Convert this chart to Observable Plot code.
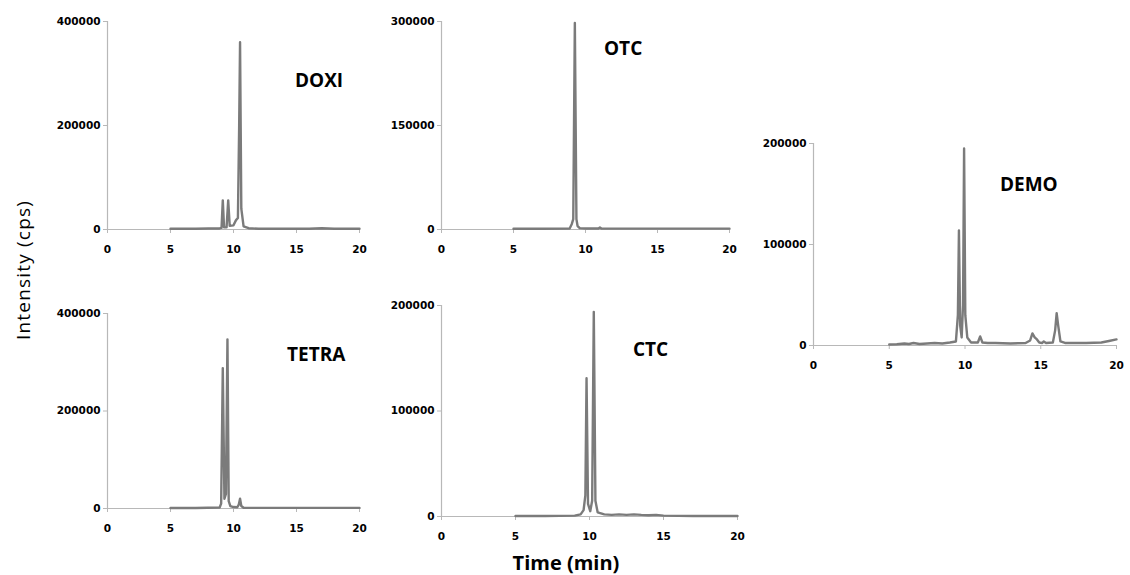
<!DOCTYPE html>
<html>
<head>
<meta charset="utf-8">
<script src="https://cdn.jsdelivr.net/npm/d3@7"></script>
<script src="https://cdn.jsdelivr.net/npm/@observablehq/plot@0.6"></script>
<style>
  html, body { margin: 0; padding: 0; background: #fff; overflow: hidden; }
  #root { position: relative; width: 1130px; height: 575px; overflow: hidden; background: #fff; }
  .panel { position: absolute; }
  .panel svg { max-width: none !important; display: block; }
  .title { position: absolute; font-family: "Open Sans", sans-serif; font-weight: bold; font-size: 19px; line-height: 19px; color: #000; white-space: nowrap; }
  .ylab { position: absolute; font-family: "Open Sans", sans-serif; font-size: 19px; letter-spacing: 1.2px; color: #000; white-space: nowrap; transform: translate(-50%, -50%) rotate(-90deg); }
  .xlab { position: absolute; font-family: "Open Sans", sans-serif; font-weight: bold; font-size: 20px; color: #000; white-space: nowrap; transform: translate(-50%, -50%); }
</style>
</head>
<body>
<div id="root"></div>
<script>
// ---- Data ----
const compounds = ["DOXI", "OTC", "DEMO", "TETRA", "CTC"];
const xTicks = [0, 5, 10, 15, 20];

const doxiYTicks = [0, 200000, 400000];
const otcYTicks = [0, 150000, 300000];
const demoYTicks = [0, 100000, 200000];
const tetraYTicks = [0, 200000, 400000];
const ctcYTicks = [0, 100000, 200000];

const doxiTime = [5, 6, 7, 8, 8.9, 9.05, 9.15, 9.25, 9.45, 9.58, 9.7, 10.0, 10.2, 10.35, 10.45, 10.52, 10.62, 10.8, 11.2, 12, 14, 16, 17, 18, 20];
const doxiInt  = [1500, 1500, 1500, 1800, 2000, 3000, 56000, 4000, 4000, 56000, 7000, 8000, 18000, 22000, 200000, 360000, 40000, 6000, 2500, 1500, 1500, 1500, 2500, 1500, 1500];

const otcTime = [5, 7, 8.9, 9.05, 9.15, 9.26, 9.37, 9.45, 9.6, 10, 10.9, 11, 11.1, 13, 16, 20];
const otcInt  = [1000, 1000, 1500, 8000, 15000, 298000, 15000, 5000, 2000, 1500, 1500, 3000, 1500, 1200, 1200, 1200];

const demoTime = [5, 5.5, 6, 6.3, 6.6, 7, 7.5, 8, 8.5, 9, 9.4, 9.53, 9.6, 9.68, 9.78, 9.87, 9.94, 10.02, 10.15, 10.4, 10.85, 11.0, 11.15, 11.5, 12, 13, 14, 14.3, 14.45, 14.6, 14.75, 14.9, 15.1, 15.2, 15.35, 15.8, 15.95, 16.05, 16.15, 16.3, 16.6, 17, 18, 19, 19.5, 20];
const demoInt  = [1000, 1200, 2000, 1500, 2500, 1500, 2000, 2500, 2000, 3000, 4000, 30000, 114000, 20000, 8000, 40000, 195000, 30000, 8000, 3000, 3000, 9000, 3000, 2500, 2500, 2000, 2500, 5000, 12000, 8000, 6000, 3000, 2500, 4000, 2500, 3000, 15000, 32000, 20000, 4000, 2500, 2500, 2500, 3000, 4500, 6000];

const tetraTime = [5, 7, 8.9, 9.02, 9.15, 9.28, 9.4, 9.52, 9.62, 9.75, 10, 10.3, 10.42, 10.52, 10.62, 10.8, 12, 15, 20];
const tetraInt  = [1000, 1000, 2000, 10000, 288000, 20000, 30000, 347000, 15000, 5000, 3000, 2500, 8000, 20000, 5000, 1500, 1200, 1200, 1200];

const ctcTime = [5, 7, 9, 9.4, 9.6, 9.72, 9.8, 9.9, 10.05, 10.18, 10.29, 10.4, 10.55, 11, 11.5, 12, 12.5, 13, 13.5, 14, 14.5, 15, 17, 20];
const ctcInt  = [500, 500, 800, 2000, 6000, 20000, 131000, 12000, 5000, 15000, 194000, 15000, 4000, 2000, 1500, 2000, 1500, 2000, 1500, 1200, 1500, 800, 500, 500];

// ---- Layout ----
const root = document.getElementById("root");
const ML = 70, MR = 20, MT = 10, MB = 30;

const panels = [
  {name: compounds[0], time: doxiTime, inten: doxiInt, yTicks: doxiYTicks, ax: 107, rx: 359, ty: 21, by: 229, tl: 295, tt: 71},
  {name: compounds[1], time: otcTime, inten: otcInt, yTicks: otcYTicks, ax: 441, rx: 729, ty: 21, by: 229, tl: 604, tt: 39},
  {name: compounds[2], time: demoTime, inten: demoInt, yTicks: demoYTicks, ax: 813, rx: 1116, ty: 143, by: 345, tl: 1000, tt: 175},
  {name: compounds[3], time: tetraTime, inten: tetraInt, yTicks: tetraYTicks, ax: 107, rx: 359, ty: 313, by: 508, tl: 287, tt: 345},
  {name: compounds[4], time: ctcTime, inten: ctcInt, yTicks: ctcYTicks, ax: 441, rx: 737, ty: 305, by: 516, tl: 633, tt: 340}
];

for (const p of panels) {
  const data = p.time.map((t, i) => ({t, v: p.inten[i]}));
  const yMax = p.yTicks[p.yTicks.length - 1];
  const W = ML + (p.rx - p.ax) + MR;
  const H = MT + (p.by - p.ty) + MB;
  const chart = Plot.plot({
    width: W,
    height: H,
    marginLeft: ML, marginRight: MR, marginTop: MT, marginBottom: MB,
    style: {fontFamily: "DejaVu Sans", fontSize: "10.5px", fontWeight: "bold", color: "#000", background: "transparent", overflow: "visible", maxWidth: "none"},
    x: {domain: [0, 20]},
    y: {domain: [0, yMax]},
    marks: [
      Plot.ruleX([0], {stroke: "#b8b8b8", strokeWidth: 1.2}),
      Plot.ruleY([0], {stroke: "#b8b8b8", strokeWidth: 1.2}),
      Plot.axisY({ticks: p.yTicks, tickFormat: d => d3.format("d")(d), tickSize: 4, tickPadding: 3, stroke: "#b8b8b8", fill: "#000", label: null}),
      Plot.axisX({ticks: xTicks, tickFormat: d => String(d), tickSize: 4, tickPadding: 12, stroke: "#b8b8b8", fill: "#000", label: null}),
      Plot.line(data, {x: "t", y: "v", stroke: "#7b7b7b", strokeWidth: 2.4, strokeLinejoin: "round"})
    ]
  });
  const div = document.createElement("div");
  div.className = "panel";
  div.style.left = (p.ax - ML) + "px";
  div.style.top = (p.ty - MT) + "px";
  div.style.width = W + "px";
  div.style.height = H + "px";
  div.appendChild(chart);
  root.appendChild(div);

  const t = document.createElement("div");
  t.className = "title";
  t.style.left = p.tl + "px";
  t.style.top = p.tt + "px";
  t.textContent = p.name;
  root.appendChild(t);
}

const yl = document.createElement("div");
yl.className = "ylab";
yl.style.left = "23px";
yl.style.top = "270px";
yl.textContent = "Intensity (cps)";
root.appendChild(yl);

const xl = document.createElement("div");
xl.className = "xlab";
xl.style.left = "566px";
xl.style.top = "562px";
xl.textContent = "Time (min)";
root.appendChild(xl);
</script>
</body>
</html>
